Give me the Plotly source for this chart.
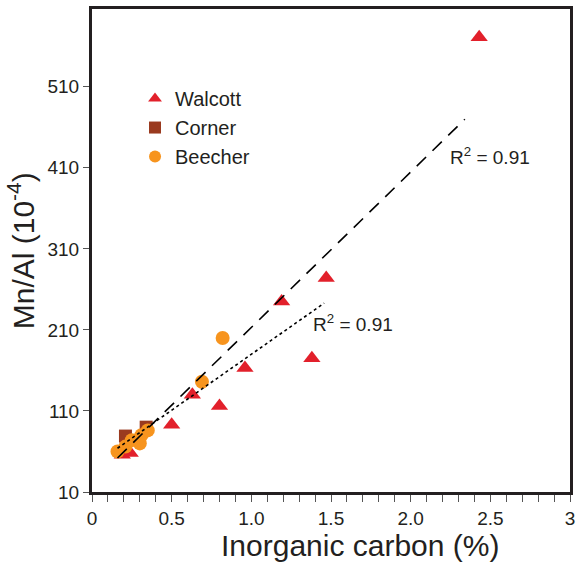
import plotly.graph_objects as go

# ---- data ----
walcott_x = [2.43, 1.47, 1.19, 1.38, 0.96, 0.63, 0.80, 0.50, 0.19, 0.24]
walcott_y = [571, 274, 245, 175, 163, 130, 116, 93, 56, 58]

corner_x = [0.21, 0.34]
corner_y = [79, 90]

beecher_x = [0.16, 0.21, 0.25, 0.30, 0.31, 0.35, 0.69, 0.82]
beecher_y = [60, 66, 74, 70, 80, 86, 146, 200]

fit_all_x = [0.16, 2.34]
fit_all_y = [52, 470]
fit_sub_x = [0.16, 1.457]
fit_sub_y = [64, 243]

r2_labels = ["R<sup>2</sup> = 0.91", "R<sup>2</sup> = 0.91"]
r2_x = [2.236, 1.376]
r2_y = [424, 219]

x_tick_vals = [0, 0.5, 1.0, 1.5, 2.0, 2.5, 3.0]
x_tick_text = ["0", "0.5", "1.0", "1.5", "2.0", "2.5", "3"]
y_tick_vals = [10, 110, 210, 310, 410, 510]
y_tick_text = ["10", "110", "210", "310", "410", "510"]

RED = "#e2202b"
BROWN = "#9a3a1f"
ORANGE = "#f7941e"
INK = "#231f20"
FONT = "Liberation Sans, Arial, sans-serif"

fig = go.Figure()
fig.add_trace(go.Scatter(x=walcott_x, y=walcott_y, mode="markers", name="Walcott",
                         marker=dict(symbol="triangle-up", size=15, color=RED)))
fig.add_trace(go.Scatter(x=corner_x, y=corner_y, mode="markers", name="Corner",
                         marker=dict(symbol="square", size=13, color=BROWN)))
fig.add_trace(go.Scatter(x=beecher_x, y=beecher_y, mode="markers", name="Beecher",
                         marker=dict(symbol="circle", size=14, color=ORANGE)))
fig.add_trace(go.Scatter(x=fit_all_x, y=fit_all_y, mode="lines", showlegend=False,
                         line=dict(color="black", width=1.6, dash="13px,9px")))
fig.add_trace(go.Scatter(x=fit_sub_x, y=fit_sub_y, mode="lines", showlegend=False,
                         line=dict(color="black", width=1.6, dash="3px,3px")))

for txt, ax_, ay_ in zip(r2_labels, r2_x, r2_y):
    fig.add_annotation(x=ax_, y=ay_, text=txt, showarrow=False, xanchor="left",
                       yanchor="middle", font=dict(size=19, color=INK, family=FONT))

fig.add_annotation(xref="paper", yref="paper", x=0.56, y=-0.072, yanchor="top",
                   text="Inorganic carbon (%)", showarrow=False,
                   font=dict(size=30, color=INK, family=FONT))
fig.add_annotation(xref="paper", yref="paper", x=-0.149, y=0.50, xanchor="center",
                   yanchor="middle", textangle=-90,
                   text="Mn/Al (10<sup>-4</sup>)", showarrow=False,
                   font=dict(size=30, color=INK, family=FONT))

fig.update_layout(
    width=581, height=564,
    margin=dict(l=92, r=6, t=9, b=72),
    paper_bgcolor="white", plot_bgcolor="white",
    font=dict(family=FONT, color=INK, size=19),
    legend=dict(x=0.09, y=0.855, xanchor="left", yanchor="top",
                bgcolor="rgba(0,0,0,0)", font=dict(size=20, color=INK),
                itemsizing="constant", tracegroupgap=0),
    showlegend=True,
)
fig.update_xaxes(range=[0, 3], tickmode="array", tickvals=x_tick_vals, ticktext=x_tick_text,
                 showgrid=False, zeroline=False, showline=True, linewidth=3, linecolor=INK,
                 mirror=True, ticks="outside", ticklen=7, tickwidth=1, tickcolor="#555",
                 tickfont=dict(size=19, color=INK),
                 minor=dict(tickmode="linear", tick0=0, dtick=0.1, ticks="outside",
                            ticklen=7, tickwidth=1, tickcolor="#555", showgrid=False))
fig.update_yaxes(range=[10, 606], tickmode="array", tickvals=y_tick_vals, ticktext=y_tick_text,
                 showgrid=False, zeroline=False, showline=True, linewidth=3, linecolor=INK,
                 mirror=True, ticks="outside", ticklen=6, tickwidth=1, tickcolor="#555",
                 tickfont=dict(size=19, color=INK))

fig.write_html("out.html")
